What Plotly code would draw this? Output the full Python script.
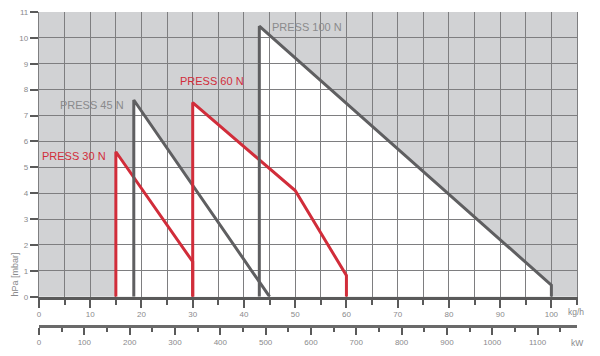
import plotly.graph_objects as go

# ---- data ----
press30_x = [15, 15, 30, 30]
press30_y = [0, 5.6, 1.35, 0]
press45_x = [18.5, 18.5, 45]
press45_y = [0, 7.6, 0]
press60_x = [30, 30, 50, 60, 60]
press60_y = [0, 7.5, 4.1, 0.82, 0]
press100_x = [43, 43, 100, 100]
press100_y = [0, 10.45, 0.45, 0]

series_names = ["PRESS 30 N", "PRESS 45 N", "PRESS 60 N", "PRESS 100 N"]
kgh_ticks = [0, 10, 20, 30, 40, 50, 60, 70, 80, 90, 100]
kw_ticks = [0, 100, 200, 300, 400, 500, 600, 700, 800, 900, 1000, 1100]
y_ticks = [0, 1, 2, 3, 4, 5, 6, 7, 8, 9, 10, 11]

RED = "#d12d3a"
DARK = "#5f5f61"
GRID = "#7e7e80"
BG = "#d1d2d4"
TXT = "#8a8a8c"
FONT = "Liberation Sans, Arial, sans-serif"

series = [
    (press30_x, press30_y, RED),
    (press45_x, press45_y, DARK),
    (press60_x, press60_y, RED),
    (press100_x, press100_y, DARK),
]

fig = go.Figure()

shapes = []
for xs, ys, col in series:
    path = "M " + " L ".join(f"{x},{y}" for x, y in zip(xs, ys)) + " Z"
    shapes.append(dict(type="path", path=path, xref="x", yref="y",
                       fillcolor="white", line=dict(width=0), layer="below"))

for (xs, ys, col), name in zip(series, series_names):
    fig.add_trace(go.Scatter(x=xs, y=ys, mode="lines", name=name,
                             line=dict(color=col, width=3),
                             hoverinfo="skip", showlegend=False))

# invisible carrier so the kW axis is rendered
fig.add_trace(go.Scatter(x=kw_ticks, y=[0] * len(kw_ticks), xaxis="x2", yaxis="y",
                         mode="markers", marker=dict(opacity=0, size=1),
                         hoverinfo="skip", showlegend=False))

annotations = [
    dict(text="PRESS 30 N", x=13.4, y=5.43, xanchor="right", font=dict(color=RED, size=11, family=FONT)),
    dict(text="PRESS 45 N", x=17.0, y=7.4, xanchor="right", font=dict(color=TXT, size=11, family=FONT)),
    dict(text="PRESS 60 N", x=33.8, y=8.33, xanchor="center", font=dict(color=RED, size=11, family=FONT)),
    dict(text="PRESS 100 N", x=45.1, y=10.41, xanchor="left", font=dict(color=TXT, size=11, family=FONT)),
]
for a in annotations:
    a.update(xref="x", yref="y", showarrow=False, yanchor="middle")

annotations += [
    dict(text="kg/h", x=0.98, y=0.0455, xref="paper", yref="paper", xanchor="left", yanchor="middle",
         showarrow=False, font=dict(color=TXT, size=8.5, family=FONT)),
    dict(text="kW", x=1.0, y=-0.053, xref="paper", yref="paper", xanchor="center", yanchor="middle",
         showarrow=False, font=dict(color=TXT, size=8.5, family=FONT)),
    dict(text="hPa [mbar]", x=-0.045, y=0.85, xref="paper", yref="y", xanchor="center", yanchor="middle",
         textangle=-90, showarrow=False, font=dict(color=TXT, size=9, family=FONT)),
]

fig.update_layout(
    width=600, height=356,
    margin=dict(l=39, r=23.4, t=12, b=30, autoexpand=False),
    paper_bgcolor="white",
    plot_bgcolor=BG,
    shapes=shapes,
    annotations=annotations,
    showlegend=False,
    font=dict(family=FONT, size=8, color=TXT),
    xaxis=dict(
        range=[0, 105], tickvals=kgh_ticks, ticktext=[str(v) for v in kgh_ticks],
        ticks="outside", ticklen=8, tickwidth=1.5, tickcolor="#5a5a5a",
        showgrid=True, gridcolor=GRID, gridwidth=1.3,
        minor=dict(dtick=5, tick0=0, ticks="outside", ticklen=5, tickwidth=1.5, tickcolor="#5a5a5a",
                   showgrid=True, gridcolor=GRID, gridwidth=1.3),
        showline=True, linecolor="#5a5a5a", linewidth=3,
        zeroline=False, tickfont=dict(size=8, color=TXT), automargin=False,
    ),
    yaxis=dict(
        domain=[0.0933, 1], range=[0, 11], tickvals=y_ticks,
        ticks="outside", ticklen=8, tickwidth=1.5, tickcolor="#5a5a5a",
        showgrid=True, gridcolor=GRID, gridwidth=1.3,
        showline=True, mirror=True, linecolor=GRID, linewidth=1.3,
        zeroline=False, tickfont=dict(size=8, color=TXT), automargin=False,
    ),
    xaxis2=dict(
        overlaying="x", anchor="free", position=0, side="bottom",
        range=[0, 1187], tickvals=kw_ticks,
        ticks="outside", ticklen=7, tickwidth=1.5, tickcolor="#5a5a5a",
        minor=dict(dtick=50, tick0=0, ticks="outside", ticklen=4, tickwidth=1.5, tickcolor="#5a5a5a"),
        showgrid=False, showline=True, linecolor="#6a6a6a", linewidth=3,
        zeroline=False, tickfont=dict(size=8, color=TXT), automargin=False,
    ),
)

fig.write_html("out.html",
               config={"displayModeBar": False},
               post_script="document.body.style.margin='0';document.body.style.overflow='hidden';")
